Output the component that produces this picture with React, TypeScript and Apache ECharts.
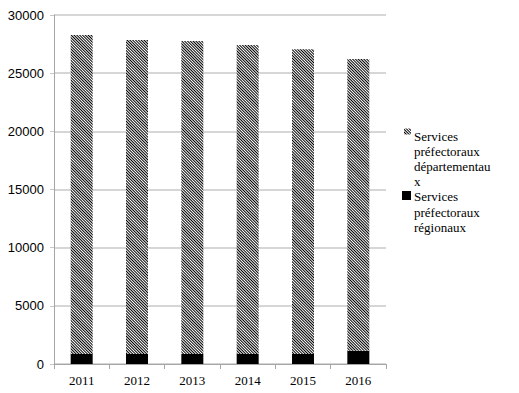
import React, { useEffect, useRef } from "react";
import * as echarts from "echarts";

const years = ["2011", "2012", "2013", "2014", "2015", "2016"];
const regional = [860, 860, 860, 860, 860, 1140];
const departmental = [27420, 26990, 26910, 26560, 26190, 25080];
const yTicks = [0, 5000, 10000, 15000, 20000, 25000, 30000];
const deptName = "Services préfectoraux départementaux";
const regName = "Services préfectoraux régionaux";
const deptLegendText = "Services\npréfectoraux\ndépartementau\nx";
const regLegendText = "Services\npréfectoraux\nrégionaux";

const hatch = {
  symbol: "rect",
  symbolSize: 1,
  color: "#000",
  dashArrayX: [1, 0],
  dashArrayY: [1, 1],
  rotation: Math.PI / 4,
};

export default function App() {
  const ref = useRef<HTMLDivElement>(null);
  useEffect(() => {
    const chart = echarts.init(ref.current!, null, { renderer: "svg" });
    chart.setOption({
      animation: false,
      backgroundColor: "#fff",
      grid: { left: 54, right: 133, top: 15, bottom: 29 },
      xAxis: {
        type: "category",
        data: years,
        boundaryGap: true,
        axisLine: { lineStyle: { color: "#a6a6a6", width: 1 } },
        axisTick: { show: true, length: 5, lineStyle: { color: "#a6a6a6" } },
        axisLabel: {
          color: "#000",
          fontFamily: "Liberation Serif",
          fontSize: 13,
          margin: 10,
        },
      },
      yAxis: {
        type: "value",
        min: yTicks[0],
        max: yTicks[yTicks.length - 1],
        interval: 5000,
        axisLine: { show: true, lineStyle: { color: "#a6a6a6", width: 1 } },
        axisTick: { show: true, length: 4, lineStyle: { color: "#c8c8c8" } },
        splitLine: { lineStyle: { color: "#c8c8c8", width: 1.5 } },
        axisLabel: {
          color: "#000",
          fontFamily: "Liberation Sans",
          fontSize: 13,
          margin: 10,
          formatter: (v: number) => String(v),
        },
      },
      legend: [
        {
          data: [{ name: deptName, icon: "rect" }],
          left: 404,
          top: 128.5,
          padding: 0,
          itemWidth: 7,
          itemHeight: 6,
          formatter: () => "",
          textStyle: { fontSize: 5 },
          selectedMode: false,
        },
        {
          data: [{ name: regName, icon: "rect" }],
          left: 402,
          top: 191,
          padding: 0,
          itemWidth: 9,
          itemHeight: 9,
          formatter: () => "",
          textStyle: { fontSize: 5 },
          selectedMode: false,
        },
      ],
      graphic: [
        {
          type: "text",
          left: 414,
          top: 128.7,
          style: {
            text: deptLegendText,
            fontFamily: "Liberation Serif",
            fontSize: 13,
            lineHeight: 15,
            fill: "#000",
          },
        },
        {
          type: "text",
          left: 414,
          top: 189,
          style: {
            text: regLegendText,
            fontFamily: "Liberation Serif",
            fontSize: 13,
            lineHeight: 15.5,
            fill: "#000",
          },
        },
      ],
      series: [
        {
          name: regName,
          type: "bar",
          stack: "total",
          data: regional,
          barWidth: 22,
          itemStyle: { color: "#000" },
        },
        {
          name: deptName,
          type: "bar",
          stack: "total",
          data: departmental,
          barWidth: 22,
          itemStyle: { color: "#fff", decal: hatch },
        },
      ],
    });
    return () => chart.dispose();
  }, []);
  return (
    <div
      ref={ref}
      style={{ position: "fixed", left: 0, top: 0, width: 519, height: 393 }}
    />
  );
}
